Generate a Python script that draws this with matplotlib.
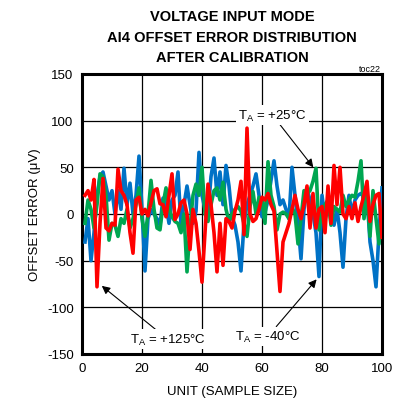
import matplotlib
matplotlib.use("Agg")
import matplotlib.pyplot as plt
import numpy as np

plt.rcParams['font.family'] = ['Liberation Sans', 'DejaVu Sans']
plt.rcParams['mathtext.default'] = 'regular'
plt.rcParams['axes.unicode_minus'] = False

units = list(range(1, 101))
blue_vals = [-30, -5, -50, -20, 20, 40, 45, 30, 15, 25, 0, 25, 5, 49, 10, 33, 0, 20, 62, 5,
             -61, -5, 5, 0, -5, -12, 17, 10, -10, 15, 20, 45, -12, 10, 30, 10, -10, 3, 66, 20,
             5, 0, 40, 60, 20, 45, 10, 52, 30, -3, -12, -30, -61, -10, 10, 20, 30, 43, 20, -3,
             2, 15, 36, 57, 30, 10, 15, 5, -5, 50, 20, -10, -48, 5, 27, 15, 0, -20, -67, 20,
             -5, 5, 10, -12, 5, -20, -57, -5, 20, 0, 15, 20, 22, 18, 20, -30, -50, -78, -20, 28]
green_vals = [-10, 15, 5, -15, 10, 43, 40, 20, -28, -10, -12, -24, -5, -10, 5, -15, -5, 10, 28, -5,
              -24, 0, 36, 5, -15, -17, 10, 28, 5, -3, -8, -10, -20, 0, -62, -15, 20, 32, 20, 50,
              0, -8, 10, 25, 28, 15, 34, 5, -8, 0, 5, 8, 3, -10, -24, 8, 24, 0, 18, 15,
              -10, 56, 20, 8, -17, 0, 2, 0, -5, 7, 0, -32, -5, 25, 22, 25, 35, 49, -17, 5,
              10, 15, -12, 8, 5, 2, 20, 8, 15, 20, 18, 35, 57, -5, 20, -24, 25, -5, -32, 5]
red_vals = [20, 25, 15, 37, -78, -10, 38, -15, -18, -10, -12, 48, 25, 20, 10, -20, -42, 15, 18, 0,
            5, -2, 12, 25, 27, 11, 10, -3, 20, 43, -6, 0, 12, 15, 0, -38, 5, -10, -40, -73,
            -20, 32, 10, -20, -62, -10, -55, -5, -8, -15, 3, 15, 35, -22, 92, 0, -8, -5, 5, 18,
            15, 22, 10, 3, -40, -83, -30, -20, -10, 5, 20, 5, -5, 10, 30, -15, 22, -15, 5, 8,
            -20, 30, -10, 52, 10, 50, 0, -5, 8, -5, 12, -8, 8, 20, 35, -8, 10, 20, 22, -25]

x_ticks = [0, 20, 40, 60, 80, 100]
y_ticks = [-150, -100, -50, 0, 50, 100, 150]

title_lines = ["VOLTAGE INPUT MODE", "AI4 OFFSET ERROR DISTRIBUTION", "AFTER CALIBRATION"]

fig = plt.figure(figsize=(4.01, 4.10), dpi=100)
ax = fig.add_axes([82/401, 1-355/410, 300/401, 280/410])

lw = 2.6
ax.plot(units, blue_vals, color='#0072C6', lw=lw, zorder=3, solid_joinstyle='round')
ax.plot(units, green_vals, color='#00A651', lw=lw, zorder=4, solid_joinstyle='round')
ax.plot(units, red_vals, color='#FF0000', lw=lw, zorder=5, solid_joinstyle='round')

ax.set_xlim(0, 100)
ax.set_ylim(-150, 150)
ax.set_xticks(x_ticks)
ax.set_yticks(y_ticks)
ax.grid(True, color='black', lw=0.9, zorder=1)
ax.tick_params(length=0, labelsize=9.5, pad=6)
for s in ax.spines.values():
    s.set_linewidth(2.2)
ax.set_xlabel("UNIT (SAMPLE SIZE)", fontsize=9.5, labelpad=8)
ax.set_ylabel("OFFSET ERROR (μV)", fontsize=9.5, labelpad=4)

fig.text(232/401, 1-17/410, title_lines[0], ha='center', va='center', fontsize=10.5, fontweight='bold')
fig.text(232/401, 1-38/410, title_lines[1], ha='center', va='center', fontsize=10.5, fontweight='bold')
fig.text(232/401, 1-58/410, title_lines[2], ha='center', va='center', fontsize=10.5, fontweight='bold')
fig.text(370/401, 1-70/410, "toc22", ha='center', va='center', fontsize=6.5)

bbox = dict(facecolor='white', edgecolor='none', pad=1.5)
arrowprops = dict(arrowstyle='-|>', color='black', lw=0.8, mutation_scale=12, shrinkA=0, shrinkB=0)
ax.annotate(r"T$_A$ = +25°C", xy=(77.1, 50), xytext=(63.5, 106), ha='center', va='center',
            fontsize=9.5, bbox=bbox, zorder=6, arrowprops=arrowprops)
ax.annotate(r"T$_A$ = -40°C", xy=(78.2, -70), xytext=(62, -131), ha='center', va='center',
            fontsize=9.5, bbox=bbox, zorder=6, arrowprops=arrowprops)
ax.annotate(r"T$_A$ = +125°C", xy=(6.6, -77), xytext=(28.5, -134), ha='center', va='center',
            fontsize=9.5, bbox=bbox, zorder=6, arrowprops=arrowprops)

fig.savefig("out.png", dpi=100)
